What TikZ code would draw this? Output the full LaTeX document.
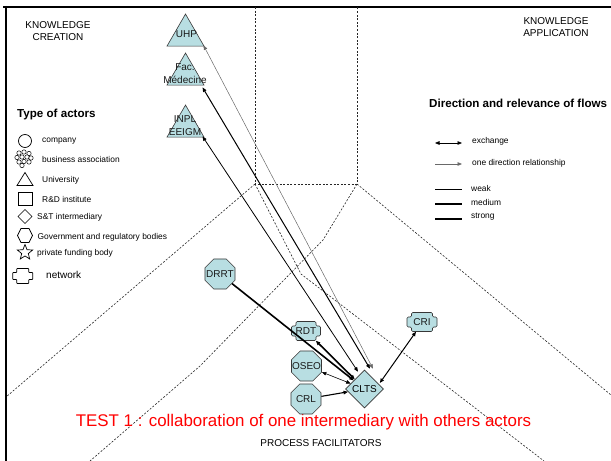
\documentclass[tikz,border=0pt]{standalone}
\usepackage{fontspec}
\setmainfont{Liberation Sans}
\usetikzlibrary{shapes.geometric,shapes.misc,arrows.meta,calc}
\definecolor{actfill}{RGB}{184,222,226}
\definecolor{actdraw}{RGB}{55,55,55}
\definecolor{flowgray}{RGB}{105,105,105}
\begin{document}
\begin{tikzpicture}[x=1bp,y=-1bp,
  >={Triangle[length=4.5bp,width=3.6bp]},
  fr/.style={line width=2bp,black},
  dsh/.style={line width=0.6bp,dash pattern=on 2bp off 1.6bp,black!85},
  actor/.style={fill=actfill,draw=actdraw,line width=0.6bp,inner sep=0pt},
  nlab/.style={font=\fontsize{10bp}{13bp}\selectfont,inner sep=0pt,align=center,text=black!90},
  octo/.style={actor,regular polygon,regular polygon sides=8,minimum size=32.5bp},
  tri/.style={actor,regular polygon,regular polygon sides=3,minimum size=42.7bp},
  inter/.style={actor,diamond,minimum width=38bp,minimum height=38bp,font=\fontsize{10bp}{12bp}\selectfont},
  netnode/.style={nlab,minimum width=29bp,minimum height=19bp},
  lgshape/.style={draw=black,fill=white,line width=0.7bp},
  lgtext/.style={font=\fontsize{8.4bp}{10bp}\selectfont,anchor=west,inner sep=0pt},
  bigtext/.style={font=\fontsize{10bp}{12bp}\selectfont,align=center,inner sep=0pt},
  head/.style={font=\fontsize{11.6bp}{14bp}\selectfont\bfseries,anchor=west,inner sep=0pt},
  medflow/.style={line width=1.0bp,black},
  strongflow/.style={line width=1.6bp,black},
  grayflow/.style={line width=0.5bp,flowgray},
  pics/netshape/.style n args={5}{code={
    \path[#5,rounded corners=#4]
     (-#1+#3,-#2) -- (#1-#3,-#2) -- (#1-#3,-#2+#3) -- (#1,-#2+#3) -- (#1,#2-#3)
     -- (#1-#3,#2-#3) -- (#1-#3,#2) -- (-#1+#3,#2) -- (-#1+#3,#2-#3)
     -- (-#1,#2-#3) -- (-#1,-#2+#3) -- (-#1+#3,-#2+#3) -- cycle;
  }}
]
\useasboundingbox (0,0) rectangle (611,461);

% frame
\draw[fr] (3,7) -- (611,7);
\draw[fr] (5.5,6) -- (5.5,461);

% dashed zones
\draw[dsh] (255,7) -- (255,184) -- (357,184) -- (357,7);
\draw[dsh] (255,184) -- (6,397);
\draw[dsh] (357,184) -- (611,395);
\draw[dsh] (255,184) -- (301,274) -- (544,461);
\draw[dsh] (357,184) -- (323,240) -- (200,366) -- (90,461);

% zone labels
\node[bigtext] (kc) at (58,31) {KNOWLEDGE\\CREATION};
\node[bigtext] (ka) at (556,27) {KNOWLEDGE\\APPLICATION};
\node[bigtext] (pf) at (321,443) {PROCESS FACILITATORS};
\node[font=\fontsize{16.9bp}{19bp}\selectfont,text=red,inner sep=0pt] (title) at (303.5,422) {TEST 1 : collaboration of one intermediary with others actors};

% legend: type of actors
\node[head] (toa) at (17,115) {Type of actors};
\node[lgshape,circle,minimum size=13bp,inner sep=0pt] (lgc) at (25,141) {};
\foreach \px/\py in {19/153,24/152,29/153.5,17/157.5,22/157,27/157,31/158,19/162,24/161.5,29/162,22/165.5}
  \draw[draw=black,fill=white,line width=0.5bp] (\px,\py) circle (2.2bp);
\draw[lgshape] (25,172.5) -- (33,185.5) -- (17,185.5) -- cycle;
\draw[lgshape] (18,192) rectangle (32,205);
\draw[lgshape] (25,209.5) -- (32,216.5) -- (25,223.5) -- (18,216.5) -- cycle;
\draw[lgshape] (21,228.5) -- (29,228.5) -- (32.5,235.5) -- (29,242.5) -- (21,242.5) -- (17.5,235.5) -- cycle;
\node[lgshape,star,star points=5,star point ratio=2.3,minimum size=16bp,inner sep=0pt] (lgs) at (25,252.5) {};
\pic at (22.7,276) {netshape={10}{7.5}{4}{0.6bp}{lgshape}};
\node[lgtext] (t1) at (42,141) {company};
\node[lgtext] (t2) at (42,159) {business association};
\node[lgtext] (t3) at (42,180) {University};
\node[lgtext] (t4) at (42,199) {R\&D institute};
\node[lgtext] (t5) at (37,217) {S\&T intermediary};
\node[lgtext] (t6) at (37.5,237) {Government and regulatory bodies};
\node[lgtext] (t7) at (37,253) {private funding body};
\node[lgtext,font=\fontsize{10bp}{12bp}\selectfont] (t8) at (46,275) {network};

% legend: flows
\node[head] (dir) at (429,103) {Direction and relevance of flows};
\draw[<->,line width=0.7bp] (435,143) -- (462,143);
\node[lgtext] (f1) at (472,141.5) {exchange};
\draw[->,grayflow,line width=0.8bp] (435,164) -- (462,164);
\node[lgtext] (f2) at (472,163) {one direction relationship};
\draw[line width=0.8bp] (435,189) -- (462,189);
\node[lgtext] (f3) at (471,188) {weak};
\draw[line width=1.2bp] (435,204) -- (462,204);
\node[lgtext] (f4) at (471,202.5) {medium};
\draw[line width=2.2bp] (435,219) -- (462,219);
\node[lgtext] (f5) at (471,217) {strong};

% actors
\node[tri] (UHP) at (185.5,35.4) {};
\node[nlab] (UHPt) at (186.5,34) {UHP};
\node[tri] (FAC) at (185.5,74.4) {};
\node[nlab] (FACt) at (185,73.5) {Fac.\\Médecine};
\node[tri] (INPL) at (185.5,126.4) {};
\node[nlab] (INPLt) at (185,125.5) {INPL\\EEIGM};

\node[octo,label={[nlab]center:DRRT}] (DRRT) at (220,274) {};
\node[octo,label={[nlab]center:OSEO}] (OSEO) at (306.5,366) {};
\node[octo,label={[nlab]center:CRL}] (CRL) at (306,399) {};
\node[inter] (CLTS) at (364.5,389) {CLTS};
\pic at (306,331) {netshape={14.5}{9.5}{4.5}{1.2bp}{actor}};
\node[netnode] (RDT) at (306,331) {RDT};
\pic at (422,322) {netshape={15}{9.5}{4.5}{1.2bp}{actor}};
\node[netnode] (CRI) at (422,322) {CRI};

% flows
\draw[<->,grayflow] ($(UHP.corner 3)+(-1,-1)$) -- ($(CLTS.north)+(8.5,-1)$);
\draw[<->,medflow] ($(FAC.corner 3)+(-2,2)$) -- ($(CLTS.north)+(5.5,-1)$);
\draw[<->,line width=0.8bp] ($(INPL.corner 3)+(-2,-1)$) -- ($(CLTS.north)+(-6.5,2)$);
\draw[->,strongflow] (DRRT) -- (CLTS);
\draw[<->,strongflow] (RDT) -- (CLTS);
\draw[<->,line width=0.6bp] (OSEO) -- (CLTS);
\draw[->,line width=1.1bp] (CRL) -- (CLTS);
\draw[<->,medflow] ($(CRI.south)+(-6,0)$) -- ($(CLTS.east)+(-4,-6)$);
\end{tikzpicture}
\end{document}
